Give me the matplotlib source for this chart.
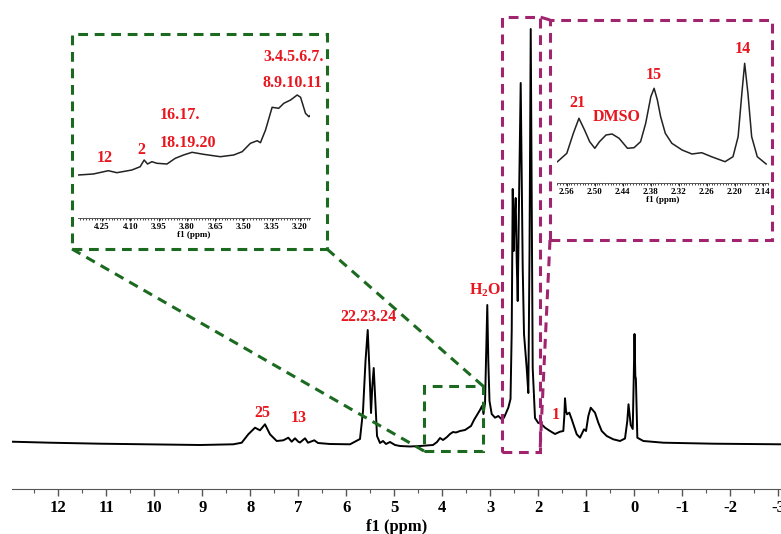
import matplotlib
matplotlib.use('Agg')
import matplotlib.pyplot as plt
from matplotlib.patches import Rectangle
from matplotlib.lines import Line2D
from matplotlib.ticker import FixedLocator, MultipleLocator
import numpy as np

plt.rcParams['font.family'] = ['Liberation Serif', 'DejaVu Serif']
plt.rcParams['font.weight'] = 'bold'
plt.rcParams['mathtext.fontset'] = 'custom'
plt.rcParams['mathtext.rm'] = 'Liberation Serif:bold'
plt.rcParams['mathtext.bf'] = 'Liberation Serif:bold'
plt.rcParams['mathtext.it'] = 'Liberation Serif:bold'
plt.rcParams['mathtext.default'] = 'bf'

W, H = 781, 534
RED = '#e8161e'
GREEN = '#1b6a1f'
MAGENTA = '#a1246f'

# full spectrum (ppm, intensity)
main_ppm = [12.971, 12.173, 11.131, 10.090, 9.048, 8.354, 8.179, 8.042, 7.902, 7.798,
            7.694, 7.590, 7.450, 7.312, 7.208, 7.138, 7.069, 7.000, 6.965, 6.860,
            6.798, 6.667, 6.590, 6.340, 5.923, 5.715, 5.652, 5.600, 5.554, 5.517,
            5.485, 5.458, 5.429, 5.396, 5.360, 5.298, 5.235, 5.173, 5.090, 4.985,
            4.881, 4.673, 4.465, 4.194, 4.110, 4.048, 3.985, 3.902, 3.840, 3.777,
            3.715, 3.631, 3.527, 3.465, 3.402, 3.340, 3.277, 3.215, 3.173, 3.142,
            3.110, 3.079, 3.063, 3.042, 3.017, 2.971, 2.902, 2.833, 2.763, 2.715,
            2.625, 2.579, 2.554, 2.533, 2.513, 2.492, 2.471, 2.450, 2.429, 2.402,
            2.367, 2.340, 2.325, 2.298, 2.242, 2.208, 2.183, 2.158, 2.138, 2.117,
            2.069, 2.000, 1.965, 1.860, 1.756, 1.652, 1.548, 1.479, 1.458, 1.444,
            1.423, 1.402, 1.354, 1.304, 1.200, 1.131, 1.048, 1.006, 0.958, 0.908,
            0.819, 0.750, 0.679, 0.575, 0.438, 0.298, 0.194, 0.146, 0.121, 0.075,
            0.033, 0.013, -0.004, -0.021, -0.033, -0.063, -0.188, -0.604, -1.646, -3.056]
main_int = [47.3, 46.3, 45.3, 44.7, 44.0, 44.7, 46.3, 54.7, 61.3, 58.7,
            64.7, 54.7, 48.0, 48.7, 51.3, 47.3, 50.7, 47.3, 46.5, 50.7,
            46.3, 48.7, 46.0, 45.0, 44.7, 50.0, 78.0, 128.0, 159.0, 118.0,
            76.0, 103.0, 121.0, 88.0, 53.0, 46.0, 48.0, 45.0, 47.0, 44.0,
            43.0, 42.5, 43.0, 44.0, 47.0, 51.0, 49.0, 52.0, 55.0, 57.0,
            56.5, 58.0, 59.0, 61.0, 63.0, 69.0, 74.0, 79.0, 83.0, 75.0,
            86.0, 148.0, 184.0, 128.0, 88.0, 75.0, 71.3, 73.0, 69.7, 71.3,
            81.3, 90.0, 158.0, 300.0, 238.0, 273.0, 291.0, 228.0, 188.0, 288.0,
            406.0, 288.0, 221.0, 155.0, 121.0, 96.0, 238.0, 460.0, 288.0, 121.0,
            71.0, 66.0, 66.3, 61.3, 58.0, 55.0, 57.3, 58.0, 73.0, 90.7,
            78.0, 74.7, 76.3, 69.7, 54.7, 51.3, 59.7, 58.0, 73.0, 81.3,
            76.3, 66.3, 58.0, 53.0, 49.7, 48.0, 50.5, 68.0, 84.7, 64.0,
            60.0, 108.0, 155.0, 113.0, 110.0, 51.3, 48.0, 46.3, 45.3, 44.7]

# zoom 4.4-3.15 ppm
zoom1_ppm = [4.376, 4.297, 4.217, 4.172, 4.092, 4.048, 4.027, 4.009, 3.986, 3.959,
             3.906, 3.862, 3.818, 3.773, 3.712, 3.623, 3.552, 3.507, 3.463, 3.427,
             3.410, 3.383, 3.348, 3.313, 3.286, 3.250, 3.215, 3.197, 3.171, 3.153, 3.144]
zoom1_int = [43.0, 44.0, 47.3, 45.3, 48.0, 51.3, 58.0, 54.0, 56.3, 54.7,
             54.0, 59.7, 63.0, 65.7, 63.7, 61.3, 63.0, 66.3, 74.7, 77.3,
             75.3, 88.0, 110.7, 109.7, 114.7, 118.0, 123.0, 120.7, 104.7, 101.3, 103.0]

# zoom 2.58-2.13 ppm
zoom2_ppm = [2.580, 2.560, 2.546, 2.534, 2.522, 2.511, 2.500, 2.490, 2.476, 2.463,
             2.448, 2.430, 2.416, 2.402, 2.391, 2.380, 2.373, 2.366, 2.359, 2.349,
             2.335, 2.313, 2.292, 2.271, 2.250, 2.221, 2.204, 2.193, 2.185, 2.179,
             2.172, 2.164, 2.152, 2.133]
zoom2_int = [21.3, 29.7, 49.7, 64.7, 53.0, 41.3, 34.7, 41.3, 48.0, 49.0,
             44.7, 34.7, 35.3, 41.3, 59.7, 86.3, 94.7, 83.0, 66.3, 49.7,
             39.7, 33.0, 29.0, 30.3, 26.3, 21.3, 26.3, 46.3, 89.7, 119.7,
             89.7, 46.3, 26.3, 19.0]

main_labels = ['25', '13', '22.23.24', 'H$_2$O', '1']
main_label_pos = [(7.756, 76), (6.986, 71), (5.548, 172), (3.11, 199), (1.631, 74)]
zoom1_labels = ['12', '2', '16.17.', '18.19.20', '3.4.5.6.7.', '8.9.10.11']
zoom1_label_pos = [(4.234, 60), (4.043, 68), (3.835, 103), (3.793, 75), (3.234, 161), (3.240, 135)]
zoom2_labels = ['21', 'DMSO', '15', '14']
zoom2_label_pos = [(2.537, 80), (2.454, 66), (2.373, 108), (2.183, 134)]

main_ticks = list(range(12, -4, -1))
zoom1_ticks = [4.25, 4.10, 3.95, 3.80, 3.65, 3.50, 3.35, 3.20]
zoom2_ticks = [2.56, 2.50, 2.44, 2.38, 2.32, 2.26, 2.20, 2.14]


def fbox(x0, y0, x1, y1):
    # pixel box (top-left origin) -> figure fraction rect
    return [x0 / W, 1 - y1 / H, (x1 - x0) / W, (y1 - y0) / H]


def fpt(x, y):
    return x / W, 1 - y / H


fig = plt.figure(figsize=(W / 100, H / 100), dpi=100)

# main spectrum
ax = fig.add_axes(fbox(11.7, 0, 781, 489))
ax.plot(main_ppm, main_int, color='black', lw=1.4)
ax.set_xlim(12.971, -3.056)
ax.set_ylim(0, 489)
for s in ['left', 'top', 'right']:
    ax.spines[s].set_visible(False)
ax.spines['bottom'].set_color('#555555')
ax.set_yticks([])
ax.xaxis.set_major_locator(FixedLocator(main_ticks))
ax.xaxis.set_minor_locator(MultipleLocator(0.5))
ax.tick_params(axis='x', which='major', length=5, width=1, color='#555555',
               labelsize=12, pad=3)
ax.tick_params(axis='x', which='minor', length=3, width=0.8, color='#555555')
ax.set_xticklabels([str(t) for t in main_ticks], fontweight='bold')
ax.set_xlabel('f1 (ppm)', fontsize=12, fontweight='bold', labelpad=2)
ax.patch.set_alpha(0)
for txt, (px, py) in zip(main_labels, main_label_pos):
    ax.text(px, py, txt, color=RED, fontsize=11.5, fontweight='bold',
            ha='center', va='center')

# inset 1 (green)
ax1 = fig.add_axes(fbox(78, 38, 310, 218))
ax1.plot(zoom1_ppm, zoom1_int, color='#222222', lw=1.1)
ax1.set_xlim(4.378, 3.147)
ax1.set_ylim(0, 180)
for s in ['left', 'top', 'right']:
    ax1.spines[s].set_visible(False)
ax1.spines['bottom'].set_color('#555555')
ax1.spines['bottom'].set_linewidth(0.7)
ax1.set_yticks([])
ax1.xaxis.set_major_locator(FixedLocator(zoom1_ticks))
ax1.xaxis.set_minor_locator(MultipleLocator(0.015))
ax1.tick_params(axis='x', which='major', length=2, width=0.6, labelsize=6.5, pad=1.5)
ax1.tick_params(axis='x', which='minor', length=1.2, width=0.5)
ax1.set_xticklabels([f'{t:.2f}' for t in zoom1_ticks], fontweight='bold')
ax1.set_xlabel('f1 (ppm)', fontsize=6.5, fontweight='bold', labelpad=0)
ax1.patch.set_alpha(0)
for txt, (px, py) in zip(zoom1_labels, zoom1_label_pos):
    ax1.text(px, py, txt, color=RED, fontsize=11.5, fontweight='bold',
             ha='center', va='center')

# inset 2 (magenta)
ax2 = fig.add_axes(fbox(557, 25, 768, 183))
ax2.plot(zoom2_ppm, zoom2_int, color='#222222', lw=1.1)
ax2.set_xlim(2.581, 2.129)
ax2.set_ylim(0, 158)
for s in ['left', 'top', 'right']:
    ax2.spines[s].set_visible(False)
ax2.spines['bottom'].set_color('#555555')
ax2.spines['bottom'].set_linewidth(0.7)
ax2.set_yticks([])
ax2.xaxis.set_major_locator(FixedLocator(zoom2_ticks))
ax2.xaxis.set_minor_locator(MultipleLocator(0.006))
ax2.tick_params(axis='x', which='major', length=2, width=0.6, labelsize=6.5, pad=1.5)
ax2.tick_params(axis='x', which='minor', length=1.2, width=0.5)
ax2.set_xticklabels([f'{t:.2f}' for t in zoom2_ticks], fontweight='bold')
ax2.set_xlabel('f1 (ppm)', fontsize=6.5, fontweight='bold', labelpad=0)
ax2.patch.set_alpha(0)
for txt, (px, py) in zip(zoom2_labels, zoom2_label_pos):
    ax2.text(px, py, txt, color=RED, fontsize=11.5, fontweight='bold',
             ha='center', va='center')

# dashed zoom frames and connectors
dash = (0, (3.2, 2.2))
frames = [((72, 34, 327, 249), GREEN), ((424, 386, 483, 451), GREEN),
          ((502, 17, 540, 452), MAGENTA), ((550, 20, 772, 240), MAGENTA)]
for (x0, y0, x1, y1), c in frames:
    r = Rectangle(fbox(x0, y0, x1, y1)[:2], (x1 - x0) / W, (y1 - y0) / H,
                  transform=fig.transFigure, fill=False, edgecolor=c,
                  lw=2.2, linestyle=dash)
    fig.add_artist(r)

connectors = [((72, 249), (424, 451), GREEN), ((327, 249), (483, 386), GREEN),
              ((550, 20), (540, 17), MAGENTA), ((550, 240), (540, 452), MAGENTA)]
for p0, p1, c in connectors:
    a, b = fpt(*p0), fpt(*p1)
    fig.add_artist(Line2D([a[0], b[0]], [a[1], b[1]], transform=fig.transFigure,
                          color=c, lw=2.2, linestyle=dash))

fig.savefig('out.png', dpi=100)
